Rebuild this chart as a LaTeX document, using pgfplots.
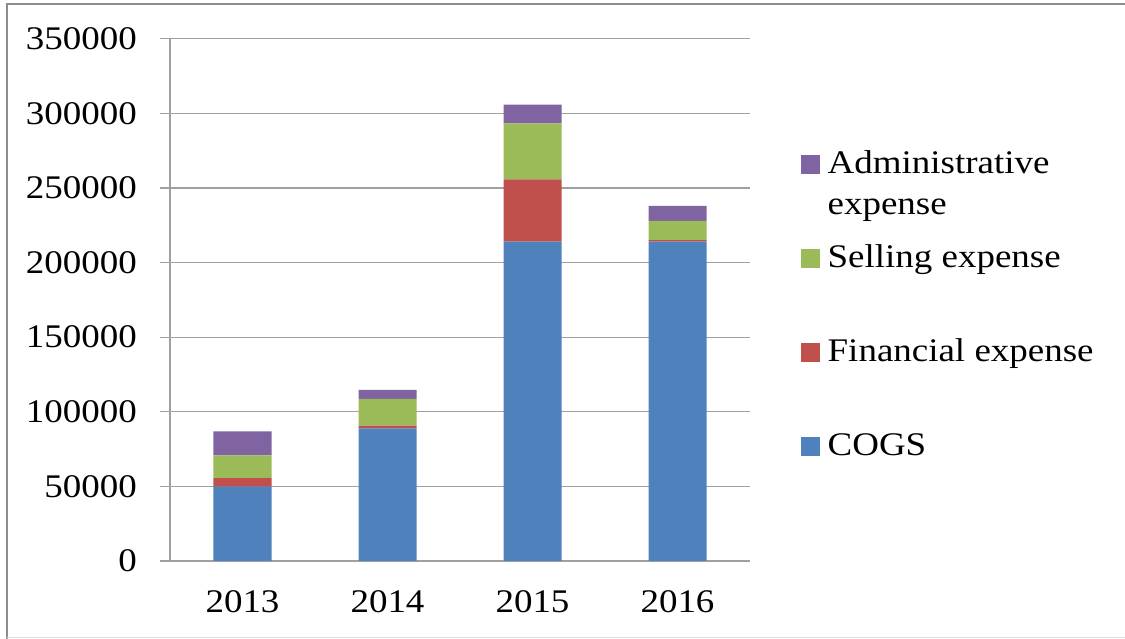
\documentclass[border=0pt]{standalone}
\usepackage{fontspec}
\setmainfont[FakeStretch=1.12]{Liberation Serif}
\usepackage{pgfplots}
\pgfplotsset{compat=1.18}
\definecolor{cogs}{HTML}{4F81BD}
\definecolor{fin}{HTML}{C0504D}
\definecolor{sell}{HTML}{9BBB59}
\definecolor{adm}{HTML}{8064A2}
\definecolor{gridc}{HTML}{A0A0A0}
\definecolor{framec}{HTML}{8C8C8C}
\begin{document}
\fontsize{33}{40.7}\selectfont
\begin{tikzpicture}
\useasboundingbox (0pt,0pt) rectangle (1125pt,639pt);
\draw[framec, line width=2pt] (6.5pt,0pt) -- (6.5pt,634.5pt) -- (1125pt,634.5pt);
\draw[gray!25, line width=1pt] (6.5pt,1pt) -- (1125pt,1pt);
\begin{axis}[
  at={(170pt,78pt)}, anchor=south west,
  scale only axis, width=580pt, height=522.3pt,
  ybar stacked, bar width=58pt,
  xmin=-0.5, xmax=3.5, ymin=0, ymax=350000,
  scaled y ticks=false,
  axis lines=left, axis line style={gridc, line width=1.3pt, -},
  xtick={0,1,2,3}, xticklabels={2013,2014,2015,2016},
  x tick style={draw=none},
  extra x ticks={-0.5,0.5,1.5,2.5,3.5}, extra x tick labels={},
  extra x tick style={major tick length=10pt, tick align=outside, tick style={gridc, line width=1.3pt}, grid=none},
  ytick={0,50000,...,350000},
  y tick style={gridc, line width=1.3pt},
  tick align=outside, major tick length=10pt,
  ymajorgrids, grid style={gridc, line width=1.3pt},
  /pgf/number format/fixed,
  /pgf/number format/1000 sep={},
  /pgf/number format/assume math mode=true,
  ticklabel style={font=\fontsize{33}{40}\selectfont, inner sep=0pt},
  yticklabel style={anchor=east, xshift=-23pt},
  xticklabel style={anchor=base, yshift=-42pt},
  legend style={at={(1.0874,0.8176)}, anchor=north west, draw=none, fill=none,
    inner sep=0pt, outer sep=0pt, row sep=0pt,
    font=\fontsize{33}{40.7}\selectfont,
    /tikz/every odd column/.append style={column sep=8pt}},
  legend cell align=left,
  reverse legend,
  legend image code/.code={\fill[#1] (0pt,0pt) rectangle (19pt,19pt);},
]
\addplot[fill=cogs, draw=none] coordinates {(0,49800) (1,88900) (2,214000) (3,214000)};
\addlegendentry[anchor=base west, inner sep=0pt, text height=40pt, text depth=54pt]{COGS}
\addplot[fill=fin, draw=none] coordinates {(0,5800) (1,1800) (2,41800) (3,1000)};
\addlegendentry[anchor=base west, inner sep=0pt, text height=40pt, text depth=54pt]{Financial expense}
\addplot[fill=sell, draw=none] coordinates {(0,15200) (1,17900) (2,37500) (3,13000)};
\addlegendentry[anchor=base west, inner sep=0pt, text height=40pt, text depth=54pt]{Selling expense}
\addplot[fill=adm, draw=none] coordinates {(0,16100) (1,6000) (2,12500) (3,9900)};
\addlegendentry[anchor=base west, inner sep=0pt, text height=40pt, text depth=53.7pt]{\begin{tabular}[t]{@{}l@{}}Administrative\\expense\end{tabular}}
\end{axis}
\end{tikzpicture}
\end{document}
